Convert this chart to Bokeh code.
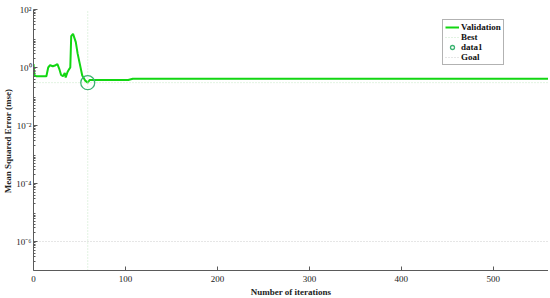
from bokeh.plotting import figure
from bokeh.models import (FixedTicker, CustomJSTickFormatter, Legend, LegendItem, Range1d)
from bokeh.embed import file_html
from bokeh.resources import INLINE

# ---- data ----
epochs = [0, 1, 3, 8, 14, 16, 18, 21, 24, 26, 28, 30, 32, 34, 35, 37, 39, 40, 41,
          43, 46, 48, 50, 53, 56, 59, 61, 103, 108, 560]
val_mse = [1.3, 0.55, 0.5, 0.5, 0.5, 1.0, 1.2, 1.1, 1.2, 1.3, 0.9, 0.55, 0.5, 0.65,
           0.45, 0.7, 0.9, 1.0, 12.0, 14.5, 7.5, 3.0, 1.5, 0.53, 0.36, 0.30, 0.37,
           0.37, 0.41, 0.41]
best_epoch = 59
best_mse = 0.30
goal_mse = 1e-6
x_limits = [0, 560]
y_limits = [1e-7, 1e2]
x_ticks = [0, 100, 200, 300, 400, 500]
y_ticks = [1e-6, 1e-4, 1e-2, 1.0, 1e2]
y_minor = [m * 10.0 ** e for e in range(-7, 2) for m in range(2, 10)]

FONT = "Liberation Serif"
GREEN = "#12d612"

p = figure(width=542, height=290, output_backend="svg", toolbar_location=None,
           y_axis_type="log",
           x_range=Range1d(*x_limits), y_range=Range1d(*y_limits),
           frame_width=515, frame_height=261,
           min_border_left=0, min_border_right=0, min_border_top=9, min_border_bottom=0)
p.outline_line_color = None
p.xgrid.visible = False
p.ygrid.visible = False
p.background_fill_color = "white"

# axes
for ax in (p.xaxis[0], p.yaxis[0]):
    ax.axis_line_color = "#5a5a5a"
    ax.major_tick_line_color = "#5a5a5a"
    ax.minor_tick_line_color = "#5a5a5a"
    ax.major_tick_in = 4
    ax.major_tick_out = 0
    ax.minor_tick_in = 2
    ax.minor_tick_out = 0
    ax.major_label_text_font = FONT
    ax.major_label_text_font_size = "9px"
    ax.major_label_text_color = "#222222"
    ax.axis_label_text_font = FONT
    ax.axis_label_text_font_style = "bold"
    ax.axis_label_text_font_size = "9px"
    ax.axis_label_text_color = "#222222"

p.yaxis.major_label_standoff = 2
p.yaxis.axis_label_standoff = 0
p.xaxis.major_label_standoff = 5
p.xaxis.axis_label_standoff = 2

p.xaxis.ticker = FixedTicker(ticks=x_ticks, minor_ticks=[])
p.xaxis.axis_label = "Number of iterations"
p.yaxis.ticker = FixedTicker(ticks=y_ticks, minor_ticks=y_minor)
p.yaxis.formatter = CustomJSTickFormatter(code="""
const sup = {'-':'\u207b','0':'\u2070','1':'\u00b9','2':'\u00b2','3':'\u00b3','4':'\u2074',
             '5':'\u2075','6':'\u2076','7':'\u2077','8':'\u2078','9':'\u2079'};
const e = Math.round(Math.log10(tick));
return '10' + String(e).split('').map(c => sup[c]).join('');
""")
p.yaxis.axis_label = "Mean Squared Error  (mse)"

# glyphs
r_val = p.line(epochs, val_mse, line_color=GREEN, line_width=2)
r_best_v = p.line([best_epoch, best_epoch], y_limits, line_color="#c4e6c4",
                  line_width=1, line_dash="1 2")
r_best_h = p.line(x_limits, [best_mse, best_mse], line_color="#c4e6c4",
                  line_width=1, line_dash="1 2")
r_circ = p.scatter([best_epoch], [best_mse], marker="circle", size=14,
                   fill_color=None, line_color="#3cb371", line_width=1.3)
r_goal = p.line(x_limits, [goal_mse, goal_mse], line_color="#cccccc",
                line_width=1, line_dash="1 2")

legend = Legend(items=[
    LegendItem(label="Validation", renderers=[r_val]),
    LegendItem(label="Best", renderers=[r_best_v]),
    LegendItem(label="data1", renderers=[r_circ]),
    LegendItem(label="Goal", renderers=[r_goal]),
], location=(409, 205))
legend.label_text_font = FONT
legend.label_text_font_style = "bold"
legend.label_text_font_size = "9px"
legend.label_text_color = "#111111"
legend.label_height = 10
legend.label_standoff = 2
legend.glyph_width = 14
legend.glyph_height = 10
legend.spacing = 0
legend.padding = 2
legend.margin = 0
legend.border_line_color = "#666666"
legend.border_line_width = 1
legend.background_fill_alpha = 1
p.add_layout(legend)

open("out.html", "w").write(file_html(p, INLINE))
